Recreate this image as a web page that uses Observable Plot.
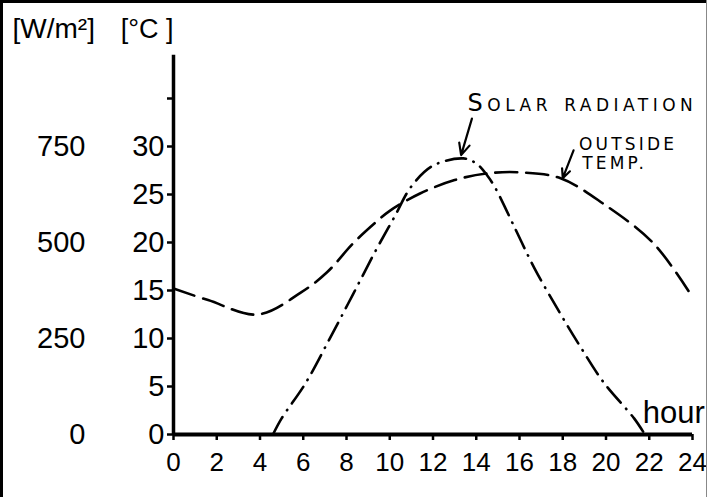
<!DOCTYPE html>
<html>
<head>
<meta charset="utf-8">
<script src="https://cdn.jsdelivr.net/npm/d3@7"></script>
<script src="https://cdn.jsdelivr.net/npm/@observablehq/plot@0.6"></script>
<style>
  html, body { margin: 0; padding: 0; background: #fff; }
  #wrap { position: relative; width: 707px; height: 497px; overflow: hidden; }
  #wrap .bt { position: absolute; left: 0; top: 0; width: 707px; height: 3px; background: #000; }
  #wrap .bl { position: absolute; left: 0; top: 0; width: 3px; height: 497px; background: #000; }
  #wrap .br { position: absolute; right: 0; top: 0; width: 1px; height: 497px; background: #888; }
</style>
</head>
<body>
<div id="wrap"><div class="bt"></div><div class="bl"></div><div class="br"></div></div>
<script>
// Outside temperature (°C) by hour
const tempHours = [0, 1.6, 3.9, 5.9, 7.1, 8.3, 9.3, 10, 11.4, 13, 14.5, 16.1, 17.9, 19.9, 22.2, 24];
const tempValues = [15.2, 14.0, 12.5, 14.8, 16.9, 19.9, 22.0, 23.3, 25.1, 26.5, 27.2, 27.3, 26.7, 24.0, 19.9, 14.3];

// Solar radiation (W/m²) by hour
const solarHours = [4.6, 5.0, 6.1, 7.2, 8.3, 9.4, 10.2, 11.0, 12.0, 13.4, 14.0, 14.5, 14.9, 15.8, 16.7, 17.8, 18.8, 19.9, 21.3, 21.8];
const solarValues = [0, 42, 133, 247, 365, 484, 565, 646, 700, 719, 706, 675, 640, 536, 432, 323, 230, 135, 42, 0];

// Axis ticks
const xTicks = [0, 2, 4, 6, 8, 10, 12, 14, 16, 18, 20, 22, 24];
const yTicks = [0, 5, 10, 15, 20, 25, 30, 35];
const yLabelMax = 30;
const wTicks = [0, 250, 500, 750];
const wPerDegree = 25; // 750 W/m² aligned with 30 °C
const yAxisTop = 39.5;

// Annotations (in data units: hour, °C)
const solarNote = [{label: "Solar radiation", x: 13.6, y: 34.5}];
const tempNote = [
  {label: "OUTSIDE", x: 18.75, y: 30.2},
  {label: "TEMP.", x: 18.9, y: 28.2}
];
const arrows = [
  {x1: 13.8, y1: 32.9, x2: 13.3, y2: 29.1},
  {x1: 18.5, y1: 29.6, x2: 18.0, y2: 26.7}
];
const hourLabel = [{label: "hour", x: 21.7, y: 2.2}];

const temp = tempHours.map((h, i) => ({hour: h, value: tempValues[i]}));
const solar = solarHours.map((h, i) => ({hour: h, value: solarValues[i]}));

const FONT = "Liberation Sans, Arial, sans-serif";
const HAND = "DejaVu Sans, sans-serif";

const chart = Plot.plot({
  width: 707,
  height: 497,
  marginLeft: 173,
  marginRight: 15,
  marginTop: 50,
  marginBottom: 63,
  style: {fontFamily: FONT, fontSize: "29px", color: "#000", background: "transparent", overflow: "visible"},
  x: {domain: [0, 24]},
  y: {domain: [0, 40]},
  marks: [
    Plot.axisX({ticks: xTicks, tickSize: 6, tickPadding: 12, strokeWidth: 2.5, label: null, tickFormat: d => String(d), fontSize: 26}),
    Plot.axisY({ticks: yTicks, tickSize: 6, tickPadding: 3, strokeWidth: 2.5, label: null, tickFormat: d => d <= yLabelMax ? String(d) : "", fontSize: 29}),
    Plot.text(wTicks, {y: d => d / wPerDegree, text: d => String(d), frameAnchor: "left", dx: -88, textAnchor: "end", fontSize: 29}),
    Plot.text(["[W/m²]"], {frameAnchor: "top-left", dx: -161, dy: -21, textAnchor: "start", lineAnchor: "middle", fontSize: 28}),
    Plot.text(["[°C ]"], {frameAnchor: "top-left", dx: 0, dy: -21, textAnchor: "end", lineAnchor: "middle", fontSize: 27}),
    Plot.ruleX([0], {y1: 0, y2: yAxisTop, strokeWidth: 3.5}),
    Plot.ruleY([0], {x1: 0, x2: 24, strokeWidth: 4}),
    Plot.line(temp, {x: "hour", y: "value", curve: "catmull-rom", strokeWidth: 2.6, strokeDasharray: "22,9", strokeLinecap: "round"}),
    Plot.line(solar, {x: "hour", y: d => d.value / wPerDegree, curve: "catmull-rom", strokeWidth: 2.6, strokeDasharray: "20,8,0.5,8", strokeLinecap: "round"}),
    Plot.arrow(arrows, {x1: "x1", y1: "y1", x2: "x2", y2: "y2", strokeWidth: 2.2, headLength: 10, headAngle: 50}),
    Plot.text(solarNote, {x: "x", y: "y", text: "label", textAnchor: "start", fontSize: 24, fontVariant: "small-caps", fontFamily: HAND}),
    Plot.text(tempNote, {x: "x", y: "y", text: "label", textAnchor: "start", fontSize: 17, fontFamily: HAND}),
    Plot.text(hourLabel, {x: "x", y: "y", text: "label", textAnchor: "start", fontSize: 31})
  ]
});
// hand-lettered annotations are widely spaced
d3.select(chart).selectAll('g[font-size="24"] text').style("letter-spacing", "4.5px");
d3.select(chart).selectAll('g[font-size="17"] text').style("letter-spacing", "3.2px");
chart.style.position = "absolute";
chart.style.left = "0";
chart.style.top = "0";
document.getElementById("wrap").prepend(chart);
</script>
</body>
</html>
